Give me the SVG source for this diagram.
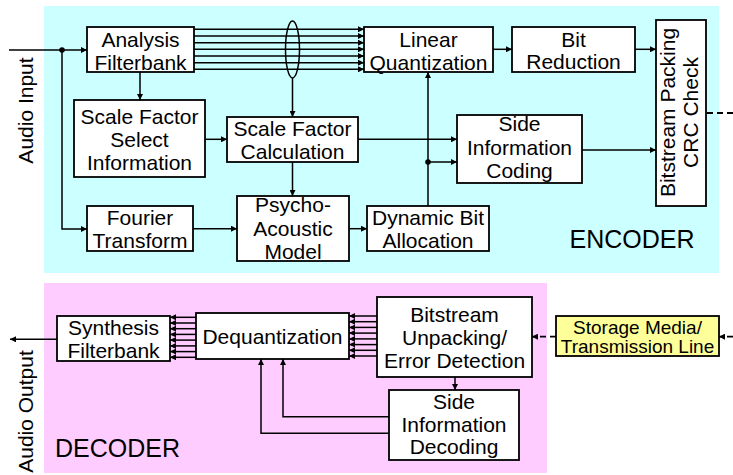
<svg xmlns="http://www.w3.org/2000/svg" width="733" height="475" viewBox="0 0 733 475">
<defs>
<style>
.box{fill:#fff;stroke:#000;stroke-width:1.8}
.ln{fill:none;stroke:#000;stroke-width:1.5}
.ds{fill:none;stroke:#000;stroke-width:1.8;stroke-dasharray:6,4}
text{font-family:"Liberation Sans",Arial,sans-serif;font-size:21px;fill:#000;text-anchor:middle}
.big{font-size:25px;text-anchor:start}
.sm{font-size:19px}
</style>
<marker id="ah" viewBox="0 0 10 10" refX="10" refY="5" markerUnits="userSpaceOnUse" markerWidth="7" markerHeight="6" orient="auto">
<path d="M0,0 L10,5 L0,10 z" fill="#000"/>
</marker>
</defs>
<rect x="44" y="6" width="675" height="267" fill="#CCFFFF"/>
<rect x="44" y="283" width="503" height="190" fill="#FFCCFF"/>
<g id="connectors">
<line class="ln" x1="9" y1="50" x2="87" y2="50" marker-end="url(#ah)"/>
<polyline class="ln" points="62,50 62,229 87,229" marker-end="url(#ah)"/>
<circle cx="62" cy="50" r="2.8" fill="#000"/>
<line class="ln" x1="194" y1="29.3" x2="364" y2="29.3" marker-end="url(#ah)"/>
<line class="ln" x1="194" y1="36" x2="364" y2="36" marker-end="url(#ah)"/>
<line class="ln" x1="194" y1="42.7" x2="364" y2="42.7" marker-end="url(#ah)"/>
<line class="ln" x1="194" y1="49.3" x2="364" y2="49.3" marker-end="url(#ah)"/>
<line class="ln" x1="194" y1="56" x2="364" y2="56" marker-end="url(#ah)"/>
<line class="ln" x1="194" y1="62.7" x2="364" y2="62.7" marker-end="url(#ah)"/>
<line class="ln" x1="194" y1="69.3" x2="364" y2="69.3" marker-end="url(#ah)"/>
<ellipse class="ln" cx="292.5" cy="49.5" rx="7" ry="28.5"/>
<line class="ln" x1="292.5" y1="78" x2="292.5" y2="117" marker-end="url(#ah)"/>
<line class="ln" x1="140" y1="72" x2="140" y2="100" marker-end="url(#ah)"/>
<line class="ln" x1="493" y1="49.3" x2="512" y2="49.3" marker-end="url(#ah)"/>
<line class="ln" x1="635" y1="49.3" x2="656" y2="49.3" marker-end="url(#ah)"/>
<line class="ds" x1="707" y1="113" x2="733" y2="113"/>
<line class="ln" x1="205" y1="139.3" x2="227" y2="139.3" marker-end="url(#ah)"/>
<line class="ln" x1="358" y1="139.3" x2="457" y2="139.3" marker-end="url(#ah)"/>
<line class="ln" x1="428" y1="162" x2="457" y2="162" marker-end="url(#ah)"/>
<circle cx="428" cy="162" r="2.8" fill="#000"/>
<line class="ln" x1="428" y1="206" x2="428" y2="72" marker-end="url(#ah)"/>
<line class="ln" x1="582" y1="150" x2="656" y2="150" marker-end="url(#ah)"/>
<line class="ln" x1="292.5" y1="162" x2="292.5" y2="196" marker-end="url(#ah)"/>
<line class="ln" x1="193" y1="228.7" x2="237" y2="228.7" marker-end="url(#ah)"/>
<line class="ln" x1="349" y1="228.7" x2="367" y2="228.7" marker-end="url(#ah)"/>
<line class="ln" x1="57" y1="339.3" x2="10" y2="339.3" marker-end="url(#ah)"/>
<line class="ln" x1="196" y1="317.3" x2="170" y2="317.3" marker-end="url(#ah)"/>
<line class="ln" x1="196" y1="323" x2="170" y2="323" marker-end="url(#ah)"/>
<line class="ln" x1="196" y1="328.7" x2="170" y2="328.7" marker-end="url(#ah)"/>
<line class="ln" x1="196" y1="334.4" x2="170" y2="334.4" marker-end="url(#ah)"/>
<line class="ln" x1="196" y1="340.1" x2="170" y2="340.1" marker-end="url(#ah)"/>
<line class="ln" x1="196" y1="345.9" x2="170" y2="345.9" marker-end="url(#ah)"/>
<line class="ln" x1="196" y1="351.6" x2="170" y2="351.6" marker-end="url(#ah)"/>
<line class="ln" x1="196" y1="357.3" x2="170" y2="357.3" marker-end="url(#ah)"/>
<line class="ln" x1="377" y1="316" x2="349" y2="316" marker-end="url(#ah)"/>
<line class="ln" x1="377" y1="321.7" x2="349" y2="321.7" marker-end="url(#ah)"/>
<line class="ln" x1="377" y1="327.4" x2="349" y2="327.4" marker-end="url(#ah)"/>
<line class="ln" x1="377" y1="333.1" x2="349" y2="333.1" marker-end="url(#ah)"/>
<line class="ln" x1="377" y1="338.9" x2="349" y2="338.9" marker-end="url(#ah)"/>
<line class="ln" x1="377" y1="344.6" x2="349" y2="344.6" marker-end="url(#ah)"/>
<line class="ln" x1="377" y1="350.3" x2="349" y2="350.3" marker-end="url(#ah)"/>
<line class="ln" x1="377" y1="356" x2="349" y2="356" marker-end="url(#ah)"/>
<line class="ln" x1="455" y1="377" x2="455" y2="390" marker-end="url(#ah)"/>
<polyline class="ln" points="389,416.7 283,416.7 283,359" marker-end="url(#ah)"/>
<polyline class="ln" points="389,433.3 261,433.3 261,359" marker-end="url(#ah)"/>
<line class="ds" x1="556" y1="336.7" x2="532" y2="336.7" marker-end="url(#ah)"/>
<line class="ds" x1="733" y1="336.7" x2="719" y2="336.7" marker-end="url(#ah)"/>
</g>
<g id="analysis-filterbank"><rect class="box" x="87" y="27" width="107" height="45"/><text x="140.5" y="47">Analysis</text><text x="140.5" y="70">Filterbank</text></g>
<g id="linear-quantization"><rect class="box" x="364" y="27" width="129" height="45"/><text x="428.5" y="47">Linear</text><text x="428.5" y="70">Quantization</text></g>
<g id="bit-reduction"><rect class="box" x="512" y="27" width="123" height="45"/><text x="573.5" y="47">Bit</text><text x="573.5" y="69">Reduction</text></g>
<g id="bitstream-packing"><rect class="box" x="656" y="20" width="50" height="186"/><text transform="translate(675,112.5) rotate(-90)">Bitstream Packing</text><text transform="translate(698,112.5) rotate(-90)">CRC Check</text></g>
<g id="scale-factor-select"><rect class="box" x="74" y="100" width="131" height="77"/><text x="139.5" y="124">Scale Factor</text><text x="139.5" y="147">Select</text><text x="139.5" y="170">Information</text></g>
<g id="scale-factor-calc"><rect class="box" x="227" y="117" width="131" height="45"/><text x="292.5" y="136">Scale Factor</text><text x="292.5" y="158.5">Calculation</text></g>
<g id="side-info-coding"><rect class="box" x="457" y="115" width="125" height="68"/><text x="519.5" y="131">Side</text><text x="519.5" y="155">Information</text><text x="519.5" y="178">Coding</text></g>
<g id="fourier-transform"><rect class="box" x="87" y="206" width="106" height="45"/><text x="140" y="225">Fourier</text><text x="140" y="247.5">Transform</text></g>
<g id="psycho-acoustic"><rect class="box" x="237" y="196" width="112" height="65"/><text x="293" y="212">Psycho-</text><text x="293" y="235.5">Acoustic</text><text x="293" y="258.5">Model</text></g>
<g id="dynamic-bit-allocation"><rect class="box" x="367" y="206" width="122" height="45"/><text x="428" y="225">Dynamic Bit</text><text x="428" y="248">Allocation</text></g>
<g id="audio-input-label"><text transform="translate(33,110.5) rotate(-90)">Audio Input</text></g>
<g id="encoder-label"><text class="big" x="569.5" y="248">ENCODER</text></g>
<g id="synthesis-filterbank"><rect class="box" x="57" y="316" width="113" height="45"/><text x="113.5" y="335">Synthesis</text><text x="113.5" y="358">Filterbank</text></g>
<g id="dequantization"><rect class="box" x="196" y="313" width="153" height="46"/><text x="272.5" y="344">Dequantization</text></g>
<g id="bitstream-unpacking"><rect class="box" x="377" y="297" width="155" height="80"/><text x="454.5" y="322">Bitstream</text><text x="454.5" y="345">Unpacking/</text><text x="454.5" y="367.5">Error Detection</text></g>
<g id="side-info-decoding"><rect class="box" x="389" y="390" width="130" height="70"/><text x="454" y="408.5">Side</text><text x="454" y="431.5">Information</text><text x="454" y="453.5">Decoding</text></g>
<g id="storage-media"><rect class="box" x="556" y="316" width="163" height="40" style="fill:#FFFF99"/><text class="sm" x="637.5" y="333.5">Storage Media/</text><text class="sm" x="637.5" y="353">Transmission Line</text></g>
<g id="audio-output-label"><text transform="translate(33,411.5) rotate(-90)">Audio Output</text></g>
<g id="decoder-label"><text class="big" x="55" y="456.5">DECODER</text></g>
</svg>
